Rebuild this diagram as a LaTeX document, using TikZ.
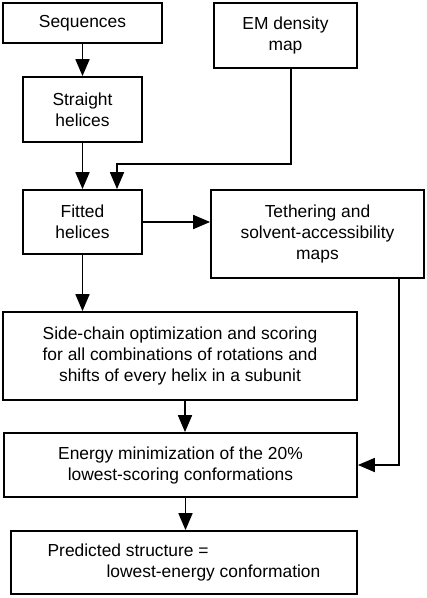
\documentclass[tikz,border=0pt]{standalone}
\usepackage{fontspec}
\setmainfont{Liberation Sans}
\usetikzlibrary{positioning}
\usetikzlibrary{calc, arrows.meta}

\begin{document}
\begin{tikzpicture}[x=1pt, y=-1pt,
    box/.style={draw, line width=1.8pt, align=center, inner sep=0pt,
        font=\fontsize{17.4}{21}\selectfont},
    arr/.style={-{Triangle[length=17pt,width=14pt]}, line width=1.8pt}]
    \useasboundingbox (0,0) rectangle (427,598);

    % Inputs
    \node[box, minimum width=159pt, minimum height=40pt] (seq) at (82.5,23) {Sequences};
    \node[box, minimum width=143pt, minimum height=65pt] (em) at (285.5,35.5) {EM density\\map};

    % Helices
    \node[box, minimum width=119pt, minimum height=65pt] (straight) at (82.5,109.5) {Straight\\helices};
    \node[box, minimum width=119pt, minimum height=64pt] (fitted) at (82.5,222) {Fitted\\helices};
    \node[box, minimum width=213pt, minimum height=88pt] (tether) at (317.5,234) {Tethering and\\solvent-accessibility\\maps};

    % Scoring and minimization
    \node[box, minimum width=354pt, minimum height=88pt] (side) at (180,356)
        {Side-chain optimization and scoring\\for all combinations of rotations and\\shifts of every helix in a subunit};
    \node[box, minimum width=353pt, minimum height=64pt] (energy) at (180.5,465)
        {Energy minimization of the 20\%\\lowest-scoring conformations};
    \node[box, minimum width=346pt, minimum height=63pt, align=left] (pred) at (184,562.5)
        {Predicted structure =\\\hspace*{59pt}lowest-energy conformation};

    % Arrows
    \coordinate (emin) at ([xshift=34.5pt]fitted.north);
    \draw[arr] (seq) -- (straight);
    \draw[arr] (straight) -- (fitted);
    \draw[arr] ([xshift=5.5pt]em.south) -- ++(0,95) -| (emin);
    \draw[arr] (fitted.east) -- (fitted.east -| tether.west);
    \draw[arr] (fitted.south) -- (fitted.south |- side.north);
    \draw[arr] ([xshift=5pt]side.south) -- ([xshift=5pt]side.south |- energy.north);
    \draw[arr] ([xshift=81.5pt]tether.south) |- (energy.east);
    \draw[arr] ([xshift=5pt]energy.south) -- ([xshift=5pt]energy.south |- pred.north);
\end{tikzpicture}
\end{document}
